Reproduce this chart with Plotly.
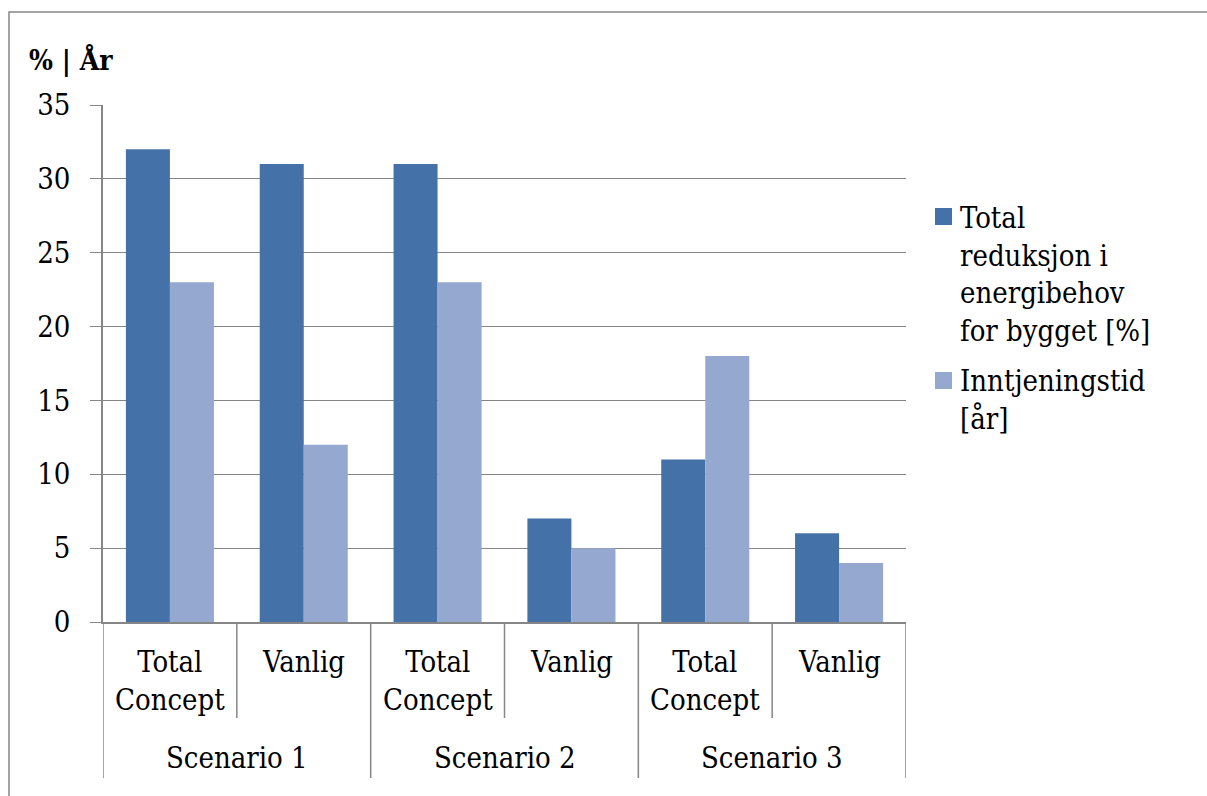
import plotly.graph_objects as go

# ---- data -------------------------------------------------------------
scenarios = ["Scenario 1", "Scenario 2", "Scenario 3"]
variants = ["Total<br>Concept", "Vanlig"]
series_names = ["Total<br>reduksjon i<br>energibehov<br>for bygget [%]", "Inntjeningstid<br>[år]"]
reduksjon = [32, 31, 31, 7, 11, 6]
inntjening = [23, 12, 23, 5, 18, 4]
y_ticks = [0, 5, 10, 15, 20, 25, 30, 35]
y_title = "<b>% | År</b>"

colors = ["#4472A8", "#95A9D0"]
grid = "#868686"
FONT = "DejaVu Serif Condensed, DejaVu Serif, serif"
FS = 29

W, H = 1207, 796
L, R, T, B = 103, 906, 105, 622  # plot area in pixels


def px(x):
    return (x - L) / (R - L)


def py(y):
    return (B - y) / (B - T)


n_cat = len(scenarios) * len(variants)
xs = list(range(n_cat))

fig = go.Figure()
for name, vals, col in zip(series_names, [reduksjon, inntjening], colors):
    fig.add_trace(go.Bar(x=xs, y=vals, name=name, marker=dict(color=col, line=dict(width=0)),
                         showlegend=False))

fig.update_layout(
    width=W, height=H,
    margin=dict(l=L, r=W - R, t=T, b=H - B, pad=0),
    paper_bgcolor="white", plot_bgcolor="white",
    barmode="group", bargap=0.342, bargroupgap=0,
    font=dict(family=FONT, size=FS, color="black"),
    xaxis=dict(range=[-0.5, n_cat - 0.5], showticklabels=False, showgrid=False, zeroline=False,
               showline=True, linecolor=grid, linewidth=1.5, ticks=""),
    yaxis=dict(range=[0, 35], tickvals=y_ticks, showgrid=True, gridcolor=grid, gridwidth=1.2,
               zeroline=False, showline=True, linecolor=grid, linewidth=1.5,
               ticks="outside", ticklen=11, tickcolor=grid, tickwidth=1.2,
               ticklabelstandoff=14, tickfont=dict(size=29)),
)

shapes = []
annotations = []

# chart border
shapes.append(dict(type="rect", xref="paper", yref="paper",
                   x0=px(9), x1=px(W + 20), y0=py(H + 20), y1=py(12),
                   line=dict(color=grid, width=1.5), fillcolor="rgba(0,0,0,0)", layer="below"))

# category separators and labels
for s_i, scen in enumerate(scenarios):
    left = s_i * len(variants) - 0.5
    shapes.append(dict(type="line", xref="x", yref="paper", x0=left, x1=left,
                       y0=0, y1=py(778), line=dict(color=grid, width=1.5)))
    annotations.append(dict(x=left + len(variants) / 2, y=py(758), xref="x", yref="paper",
                            text=scen, showarrow=False, xanchor="center", yanchor="middle"))
    for v_i, var in enumerate(variants):
        idx = s_i * len(variants) + v_i
        if v_i > 0:
            shapes.append(dict(type="line", xref="x", yref="paper", x0=idx - 0.5, x1=idx - 0.5,
                               y0=0, y1=py(718), line=dict(color=grid, width=1.5)))
        annotations.append(dict(x=idx, y=py(643), xref="x", yref="paper", text=var,
                                showarrow=False, xanchor="center", yanchor="top", align="center"))
shapes.append(dict(type="line", xref="x", yref="paper", x0=n_cat - 0.5, x1=n_cat - 0.5,
                   y0=0, y1=py(778), line=dict(color=grid, width=1.5)))

# title
annotations.append(dict(x=px(27), y=py(41), xref="paper", yref="paper", text=y_title,
                        showarrow=False, xanchor="left", yanchor="top", font=dict(size=28)))

# legend
legend_tops = [199, 362]
square_tops = [208, 372]
for name, col, ty, sy in zip(series_names, colors, legend_tops, square_tops):
    shapes.append(dict(type="rect", xref="paper", yref="paper",
                       x0=px(935), x1=px(952), y0=py(sy + 17), y1=py(sy),
                       fillcolor=col, line=dict(width=0)))
    annotations.append(dict(x=px(958), y=py(ty), xref="paper", yref="paper", text=name,
                            showarrow=False, xanchor="left", yanchor="top", align="left"))

fig.update_layout(shapes=shapes, annotations=annotations)
fig.write_html("out.html")
